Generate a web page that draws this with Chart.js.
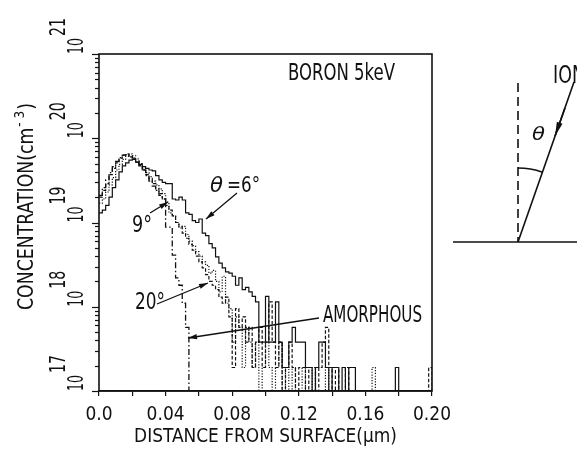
<!DOCTYPE html>
<html><head><meta charset="utf-8">
<script src="https://cdn.jsdelivr.net/npm/chart.js"></script>
<style>html,body{margin:0;padding:0;background:#fff;}canvas{display:block}</style>
</head><body>
<canvas id="c" width="577" height="453"></canvas>
<script>
// ---------------- data (histogram bins, width 0.002 µm, starting at 0) ----------------
const binWidth = 0.002; // µm
const xTickLabels = ['0.0', '0.04', '0.08', '0.12', '0.16', '0.20'];
const yTickExponents = [17, 18, 19, 20, 21];
const yMinorMultipliers = [2, 3, 4, 5, 6, 7, 8, 9];
const seriesNames = ['θ=6°', '9°', '20°', 'AMORPHOUS'];

// concentration (cm^-3) per bin; 0 = empty bin
const theta6 = [
  1.3e19, 1.4e19, 1.6e19, 2.0e19, 2.6e19, 3.2e19, 4.0e19, 4.7e19, 5.1e19, 5.5e19,
  5.6e19, 5.2e19, 4.9e19, 4.6e19, 4.4e19, 4.2e19, 4.1e19, 3.6e19, 3.2e19, 3.0e19,
  2.9e19, 2.9e19, 1.9e19, 1.85e19, 2.0e19, 1.85e19, 1.3e19, 1.25e19, 1.05e19, 1.0e19,
  1.1e19, 7.5e18, 7.0e18, 5.6e18, 5.0e18, 3.9e18, 3.3e18, 2.9e18, 2.6e18, 2.5e18,
  2.3e18, 1.8e18, 2.2e18, 1.6e18, 1.7e18, 1.5e18, 1.33e18, 1.14e18, 3.8e17, 3.8e17,
  1.33e18, 3.8e17, 3.8e17, 1.14e18, 3.8e17, 1.9e17, 1.9e17, 3.8e17, 5.7e17, 3.8e17,
  3.8e17, 3.8e17, 1.9e17, 1.9e17, 0, 1.9e17, 3.8e17, 3.8e17, 1.9e17, 0,
  1.9e17, 1.9e17, 0, 1.9e17, 0, 1.9e17, 1.9e17, 0, 0, 0,
  0, 0, 0, 0, 0, 0, 0, 0, 0, 1.9e17
];
const theta9 = [
  1.7e19, 1.9e19, 2.3e19, 2.8e19, 3.4e19, 4.2e19, 4.9e19, 5.6e19, 6.1e19, 6.5e19,
  6.2e19, 5.7e19, 5.0e19, 4.4e19, 3.9e19, 3.5e19, 3.1e19, 2.8e19, 2.5e19, 2.2e19,
  1.75e19, 1.3e19, 1.2e19, 1.0e19, 8.6e18, 9.0e18, 7.2e18, 6.0e18, 5.3e18, 4.5e18,
  4.0e18, 3.4e18, 3.1e18, 2.5e18, 2.7e18, 2.0e18, 1.5e18, 2.3e18, 1.1e18, 9.5e17,
  3.8e17, 7.6e17, 5.7e17, 1.9e17, 5.7e17, 3.8e17, 1.9e17, 3.8e17, 0, 1.9e17,
  3.8e17, 1.9e17, 0, 1.9e17, 3.8e17, 0, 1.9e17, 0, 1.9e17, 0,
  0, 1.9e17, 0, 0, 1.9e17, 0, 0, 0, 1.9e17, 0,
  0, 0, 0, 0, 0, 0, 0, 0, 0, 0,
  0, 0, 1.9e17
];
const theta20 = [
  2.0e19, 2.4e19, 2.9e19, 3.7e19, 4.4e19, 5.1e19, 5.8e19, 6.3e19, 6.5e19, 6.0e19,
  5.6e19, 5.2e19, 4.7e19, 4.2e19, 3.7e19, 3.3e19, 2.9e19, 2.5e19, 2.2e19, 1.9e19,
  1.6e19, 1.4e19, 1.2e19, 1.0e19, 9.0e18, 7.5e18, 6.5e18, 5.5e18, 4.7e18, 4.0e18,
  3.4e18, 2.9e18, 2.4e18, 2.0e18, 1.8e18, 1.6e18, 1.3e18, 1.1e18, 1.3e18, 7.6e17,
  1.9e17, 9.5e17, 5.7e17, 7.6e17, 3.8e17, 5.7e17, 1.9e17, 3.8e17, 5.7e17, 1.9e17,
  3.8e17, 1.14e18, 3.8e17, 1.9e17, 3.8e17, 0, 1.9e17, 3.8e17, 1.9e17, 0,
  1.9e17, 1.9e17, 0, 1.9e17, 1.9e17, 0, 1.9e17, 3.8e17, 5.7e17, 1.9e17,
  0, 1.9e17, 0, 0, 1.9e17, 0, 0, 0, 0, 0,
  0, 0, 0, 0, 0, 0, 0, 0, 0, 0,
  0, 0, 0, 0, 0, 0, 0, 0, 0, 1.9e17
];
const amorphous = [
  2.1e19, 2.6e19, 3.2e19, 3.9e19, 4.6e19, 5.3e19, 5.9e19, 6.3e19, 6.4e19, 6.2e19,
  5.8e19, 5.3e19, 4.8e19, 4.2e19, 3.6e19, 3.1e19, 2.7e19, 2.4e19, 2.1e19, 1.9e19,
  8.8e18, 8.8e18, 4.1e18, 2.2e18, 1.8e18, 1.1e18, 5.7e17
];

// ---------------- fonts ----------------
const INK = '#111';
const mctx = document.createElement('canvas').getContext('2d');
function hasFont(name) {
  const s = 'DISTANCE 0.04 mwiWMl';
  return ['monospace', 'serif', 'sans-serif'].some(g => {
    mctx.font = '40px ' + g; const w0 = mctx.measureText(s).width;
    mctx.font = '40px "' + name + '", ' + g; return mctx.measureText(s).width !== w0;
  });
}
const FONT = ['Liberation Sans Narrow', 'DejaVu Sans Condensed', 'Roboto Condensed', 'Arial Narrow', 'Liberation Sans', 'DejaVu Sans'].find(hasFont) || 'sans-serif';
const FONTCSS = '"' + FONT + '", "Liberation Sans", sans-serif';
function fitSize(text, target, base) {
  mctx.font = base + 'px ' + FONTCSS;
  return base * target / mctx.measureText(text).width;
}
const xTitle = 'DISTANCE FROM SURFACE(µm)';
const tickSize = Math.min(24, fitSize('0.04', 38, 20));
const titleSize = Math.min(22, fitSize(xTitle, 263, 20));

// ---------------- datasets ----------------
const FLOOR = 1e15; // empty bin -> below the axis (clipped)
function toPoints(vals) {
  const pts = vals.map((v, i) => ({ x: +(i * binWidth).toFixed(4), y: v > 0 ? v : FLOOR }));
  pts.push({ x: +(vals.length * binWidth).toFixed(4), y: FLOOR });
  return pts;
}
const styles = [
  { dash: [] , w: 1.2 },
  { dash: [1.2, 1.6], w: 1.2 },
  { dash: [3.5, 2], w: 1.2 },
  { dash: [6, 2.5, 1.5, 2.5], w: 1.3 }
];
const datasets = [theta6, theta9, theta20, amorphous].map((vals, k) => ({
  label: seriesNames[k],
  data: toPoints(vals),
  stepped: true,
  borderColor: INK,
  borderWidth: styles[k].w,
  borderDash: styles[k].dash,
  pointRadius: 0,
  fill: false
}));

// ---------------- decorations ----------------
function fitText(ctx, str, x, baseline, capH, width, opts = {}) {
  const size = capH / 0.72;
  ctx.save();
  ctx.font = (opts.italic ? 'italic ' : '') + size + 'px ' + FONTCSS;
  ctx.textBaseline = 'alphabetic'; ctx.textAlign = 'left';
  const w = ctx.measureText(str).width;
  ctx.translate(x, baseline);
  if (opts.rotate) ctx.rotate(-Math.PI / 2);
  ctx.scale(width / w, 1);
  ctx.fillText(str, 0, 0);
  ctx.restore();
}
function arrow(ctx, x1, y1, x2, y2, head = 9, hw = 2.6) {
  ctx.beginPath(); ctx.moveTo(x1, y1); ctx.lineTo(x2, y2); ctx.stroke();
  const a = Math.atan2(y2 - y1, x2 - x1), c = Math.cos(a), s = Math.sin(a);
  ctx.beginPath(); ctx.moveTo(x2, y2);
  ctx.lineTo(x2 - head * c + hw * s, y2 - head * s - hw * c);
  ctx.lineTo(x2 - head * c - hw * s, y2 - head * s + hw * c);
  ctx.closePath(); ctx.fill();
}
const decor = {
  id: 'decor',
  afterDraw(chart) {
    const { ctx, chartArea: a, scales: { y } } = chart;
    ctx.save();
    ctx.strokeStyle = INK; ctx.fillStyle = INK;
    ctx.lineWidth = 1.6;
    ctx.strokeRect(a.left, a.top, a.right - a.left, a.bottom - a.top);
    // y ticks and rotated 10^n labels
    ctx.lineWidth = 1.2;
    yTickExponents.forEach((n, idx) => {
      const mults = idx < yTickExponents.length - 1 ? [1].concat(yMinorMultipliers) : [1];
      mults.forEach(m => {
        const py = Math.round(y.getPixelForValue(m * Math.pow(10, n))) + 0.5;
        const len = m === 1 ? 7 : 4;
        ctx.beginPath(); ctx.moveTo(a.left - len, py); ctx.lineTo(a.left, py); ctx.stroke();
      });
      const py = y.getPixelForValue(Math.pow(10, n));
      fitText(ctx, '10', 83, py, 15.5, 16, { rotate: true });
      fitText(ctx, String(n), 65, py - 18, 15.5, 18, { rotate: true });
    });
    // y title
    ctx.save();
    ctx.translate(33, 310); ctx.rotate(-Math.PI / 2);
    const s = 15 / 0.72;
    const main = 'CONCENTRATION(cm';
    ctx.font = s + 'px ' + FONTCSS;
    const w1 = ctx.measureText(main).width, w3 = ctx.measureText(')').width;
    ctx.font = (s * 0.7) + 'px ' + FONTCSS;
    const w2 = ctx.measureText('- 3').width;
    ctx.scale(207 / (w1 + w2 + w3 + 2), 1);
    ctx.font = s + 'px ' + FONTCSS; ctx.fillText(main, 0, 0);
    ctx.font = (s * 0.7) + 'px ' + FONTCSS; ctx.fillText('- 3', w1 + 1, -s * 0.45);
    ctx.font = s + 'px ' + FONTCSS; ctx.fillText(')', w1 + w2 + 2, 0);
    ctx.restore();

    // annotations
    fitText(ctx, 'BORON 5keV', 288, 80, 16.5, 107);
    fitText(ctx, 'θ', 210, 192, 15, 13, { italic: true });
    fitText(ctx, '=6°', 227, 192, 15, 33);
    fitText(ctx, '9°', 132, 232, 17, 20);
    fitText(ctx, '20°', 135, 309, 17, 30);
    fitText(ctx, 'AMORPHOUS', 323, 322, 17, 99);
    ctx.lineWidth = 1.3;
    arrow(ctx, 237, 193, 206, 219);
    arrow(ctx, 150, 213, 168, 202);
    arrow(ctx, 157, 304, 208, 283);
    arrow(ctx, 319, 318, 188, 338);

    // incidence-angle diagram
    ctx.lineWidth = 1.6;
    ctx.beginPath(); ctx.moveTo(453, 242); ctx.lineTo(577, 242); ctx.stroke();
    ctx.save(); ctx.setLineDash([9, 5]);
    ctx.beginPath(); ctx.moveTo(518, 83); ctx.lineTo(518, 242); ctx.stroke();
    ctx.restore();
    ctx.beginPath(); ctx.moveTo(518, 242); ctx.lineTo(574, 82); ctx.stroke();
    arrow(ctx, 565, 108, 555, 136, 14, 3);
    ctx.beginPath(); ctx.arc(518, 242, 74, -Math.PI / 2, Math.atan2(82 - 242, 574 - 518)); ctx.stroke();
    fitText(ctx, 'θ', 532, 140, 13, 13, { italic: true });
    fitText(ctx, 'ION', 553, 83, 18, 32);
    ctx.restore();
  }
};

new Chart(document.getElementById('c'), {
  type: 'line',
  data: { datasets },
  plugins: [decor],
  options: {
    responsive: false,
    animation: false,
    layout: { padding: { left: 0, right: 145, top: 54, bottom: 0 } },
    plugins: { legend: { display: false }, tooltip: { enabled: false } },
    scales: {
      x: {
        type: 'linear', min: 0, max: 0.2,
        afterFit: sc => { sc.height = 62; },
        border: { display: true, color: INK, width: 1.6 },
        grid: { display: true, drawOnChartArea: false, drawTicks: true, tickLength: 5, color: INK, lineWidth: 1.2 },
        ticks: {
          stepSize: 0.02, autoSkip: false, maxRotation: 0, minRotation: 0,
          padding: Math.max(0, 415 - 391 - 5 - 0.6 * tickSize),
          color: INK, font: { family: FONTCSS, size: tickSize },
          callback: (v, i) => (i % 2 === 0 ? xTickLabels[i / 2] : '')
        },
        title: {
          display: true, text: xTitle, color: INK,
          font: { family: FONTCSS, size: titleSize },
          padding: { top: 0, bottom: Math.max(0, 453 - 437 - 0.6 * titleSize) }
        }
      },
      y: {
        type: 'logarithmic', min: 1e17, max: 1e21,
        afterFit: sc => { sc.width = 99; },
        ticks: { display: false },
        grid: { display: false },
        border: { display: false }
      }
    }
  }
});
</script>
</body></html>
